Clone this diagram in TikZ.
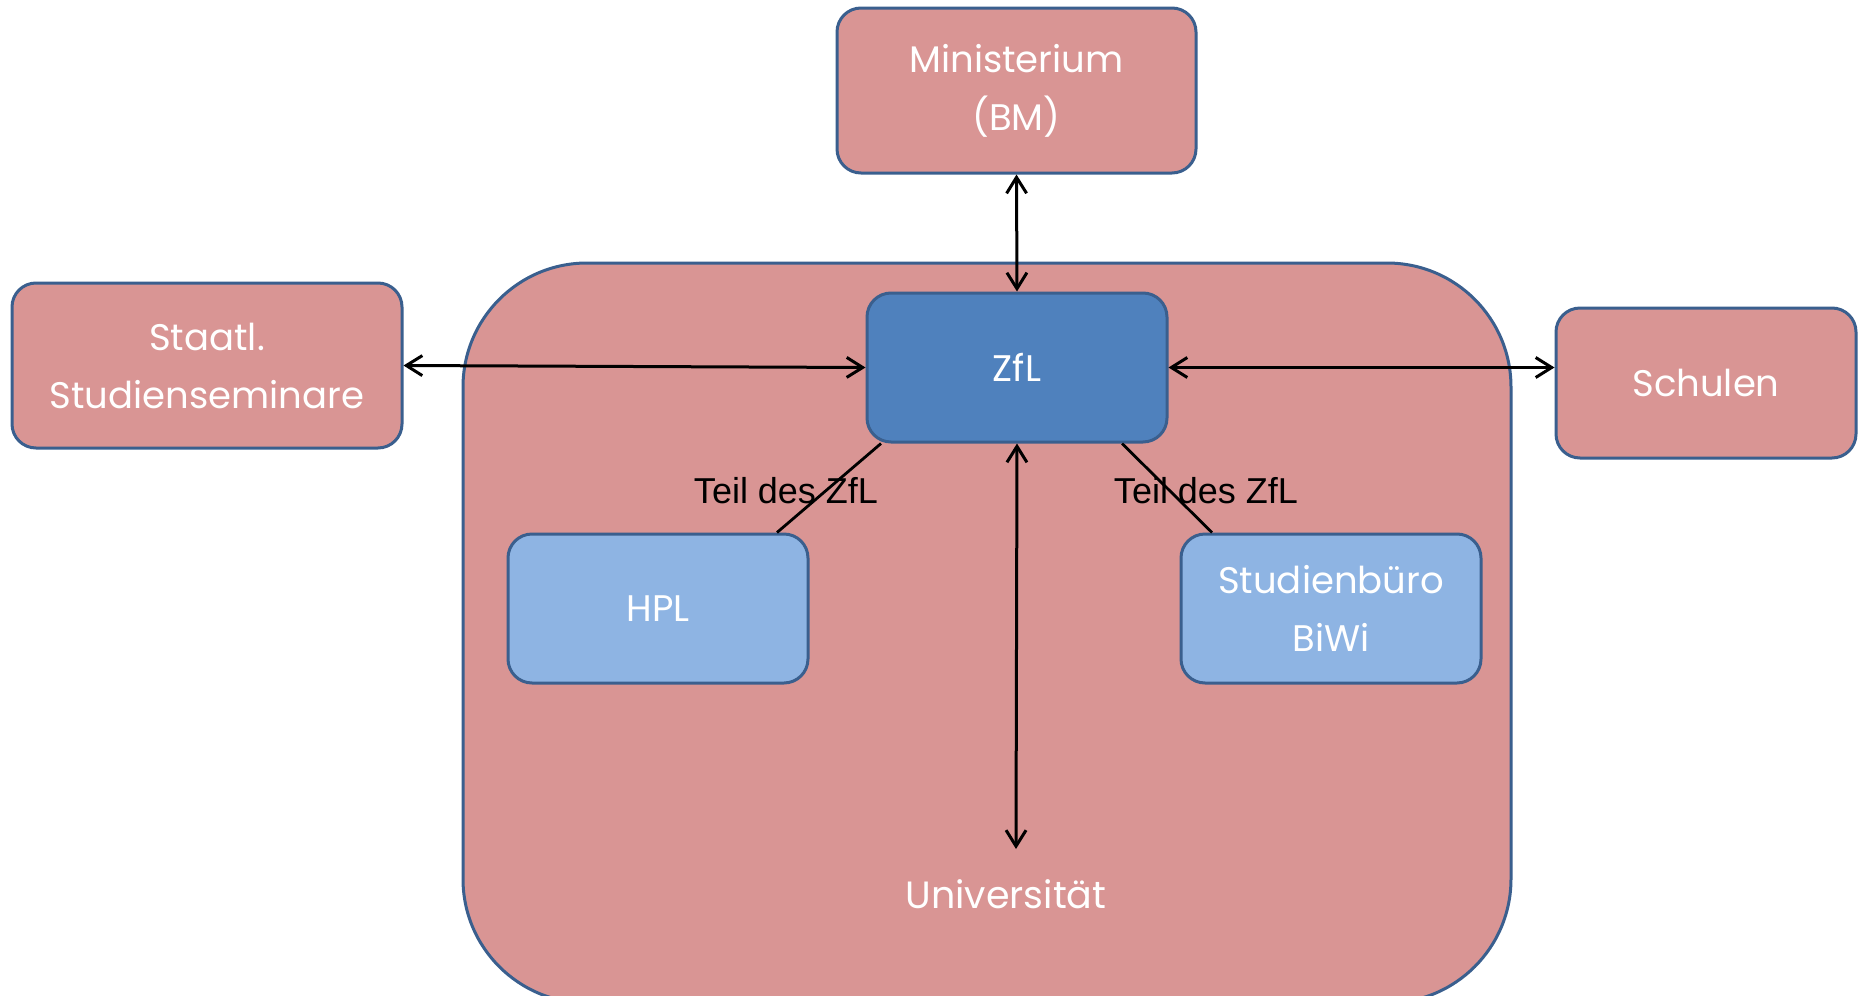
\documentclass[tikz,border=0pt]{standalone}
\usepackage{fontspec}
\setmainfont{Poppins}
\newfontfamily\labelfont{Liberation Sans}
\usetikzlibrary{arrows.meta,calc}
\definecolor{pinkfill}{HTML}{D99594}
\definecolor{boxborder}{HTML}{3A5F8E}
\definecolor{zflfill}{HTML}{4F81BD}
\definecolor{lightblue}{HTML}{8EB4E3}
\tikzset{
  box/.style={draw=boxborder, line width=1.5pt, rounded corners=12pt, fill=pinkfill,
    text=white, align=center, inner sep=0pt, font=\fontsize{18.5}{29}\selectfont},
  bluebox/.style={box, fill=lightblue},
  zflbox/.style={box, fill=zflfill},
  biarrow/.style={line width=1.5pt, {Straight Barb[length=8pt,width=10pt]}-{Straight Barb[length=8pt,width=10pt]}},
  partline/.style={line width=1.4pt},
  partlabel/.style={font=\labelfont\fontsize{18}{20}\selectfont, text=black, inner sep=0pt}
}
\begin{document}
\begin{tikzpicture}[x=0.5pt,y=-0.5pt]
\useasboundingbox (0,0) rectangle (1860,996);
\clip (0,0) rectangle (1860,996);
\fill[white] (0,0) rectangle (1860,996);
% University container
\draw[draw=boxborder, line width=1.5pt, fill=pinkfill, rounded corners=62pt] (463,263) rectangle (1511,1003);
\node[text=white, font=\fontsize{19}{29}\selectfont] (uni) at (1006,894) {Universität};
\coordinate (uniend) at (1016,849);
% boxes
\node[box, minimum width=179.5pt, minimum height=82.5pt] (min) at (1016.5,90.5) {\rule{0pt}{14pt}Ministerium\\(BM)};
\node[zflbox, minimum width=150pt, minimum height=74.5pt] (zfl) at (1017,367.5) {ZfL};
\node[box, minimum width=195pt, minimum height=82.5pt] (staatl) at (207,365.5) {Staatl.\\Studienseminare};
\node[box, minimum width=150pt, minimum height=75pt] (schulen) at (1706,383) {Schulen};
\node[bluebox, minimum width=150pt, minimum height=74.5pt] (hpl) at (658,608.5) {HPL};
\node[bluebox, minimum width=150pt, minimum height=74.5pt] (stud) at (1331,608.5) {Studienbüro\\BiWi};
% arrows
\draw[biarrow] (min.south) -- (zfl.north);
\draw[biarrow] (staatl.east) -- (zfl.west);
\draw[biarrow] (zfl.east) -- (zfl.east -| schulen.west);
\draw[biarrow] (zfl.south) -- (uniend);
% part-of lines
\draw[partline] ($(zfl.south)+(-136,0)$) -- ($(hpl.north)+(119,0)$);
\draw[partline] ($(zfl.south)+(105,0)$) -- ($(stud.north)+(-119,0)$);
\node[partlabel] (lab1) at (786,491) {Teil des ZfL};
\node[partlabel] (lab2) at (1206,491) {Teil des ZfL};
\end{tikzpicture}
\end{document}
